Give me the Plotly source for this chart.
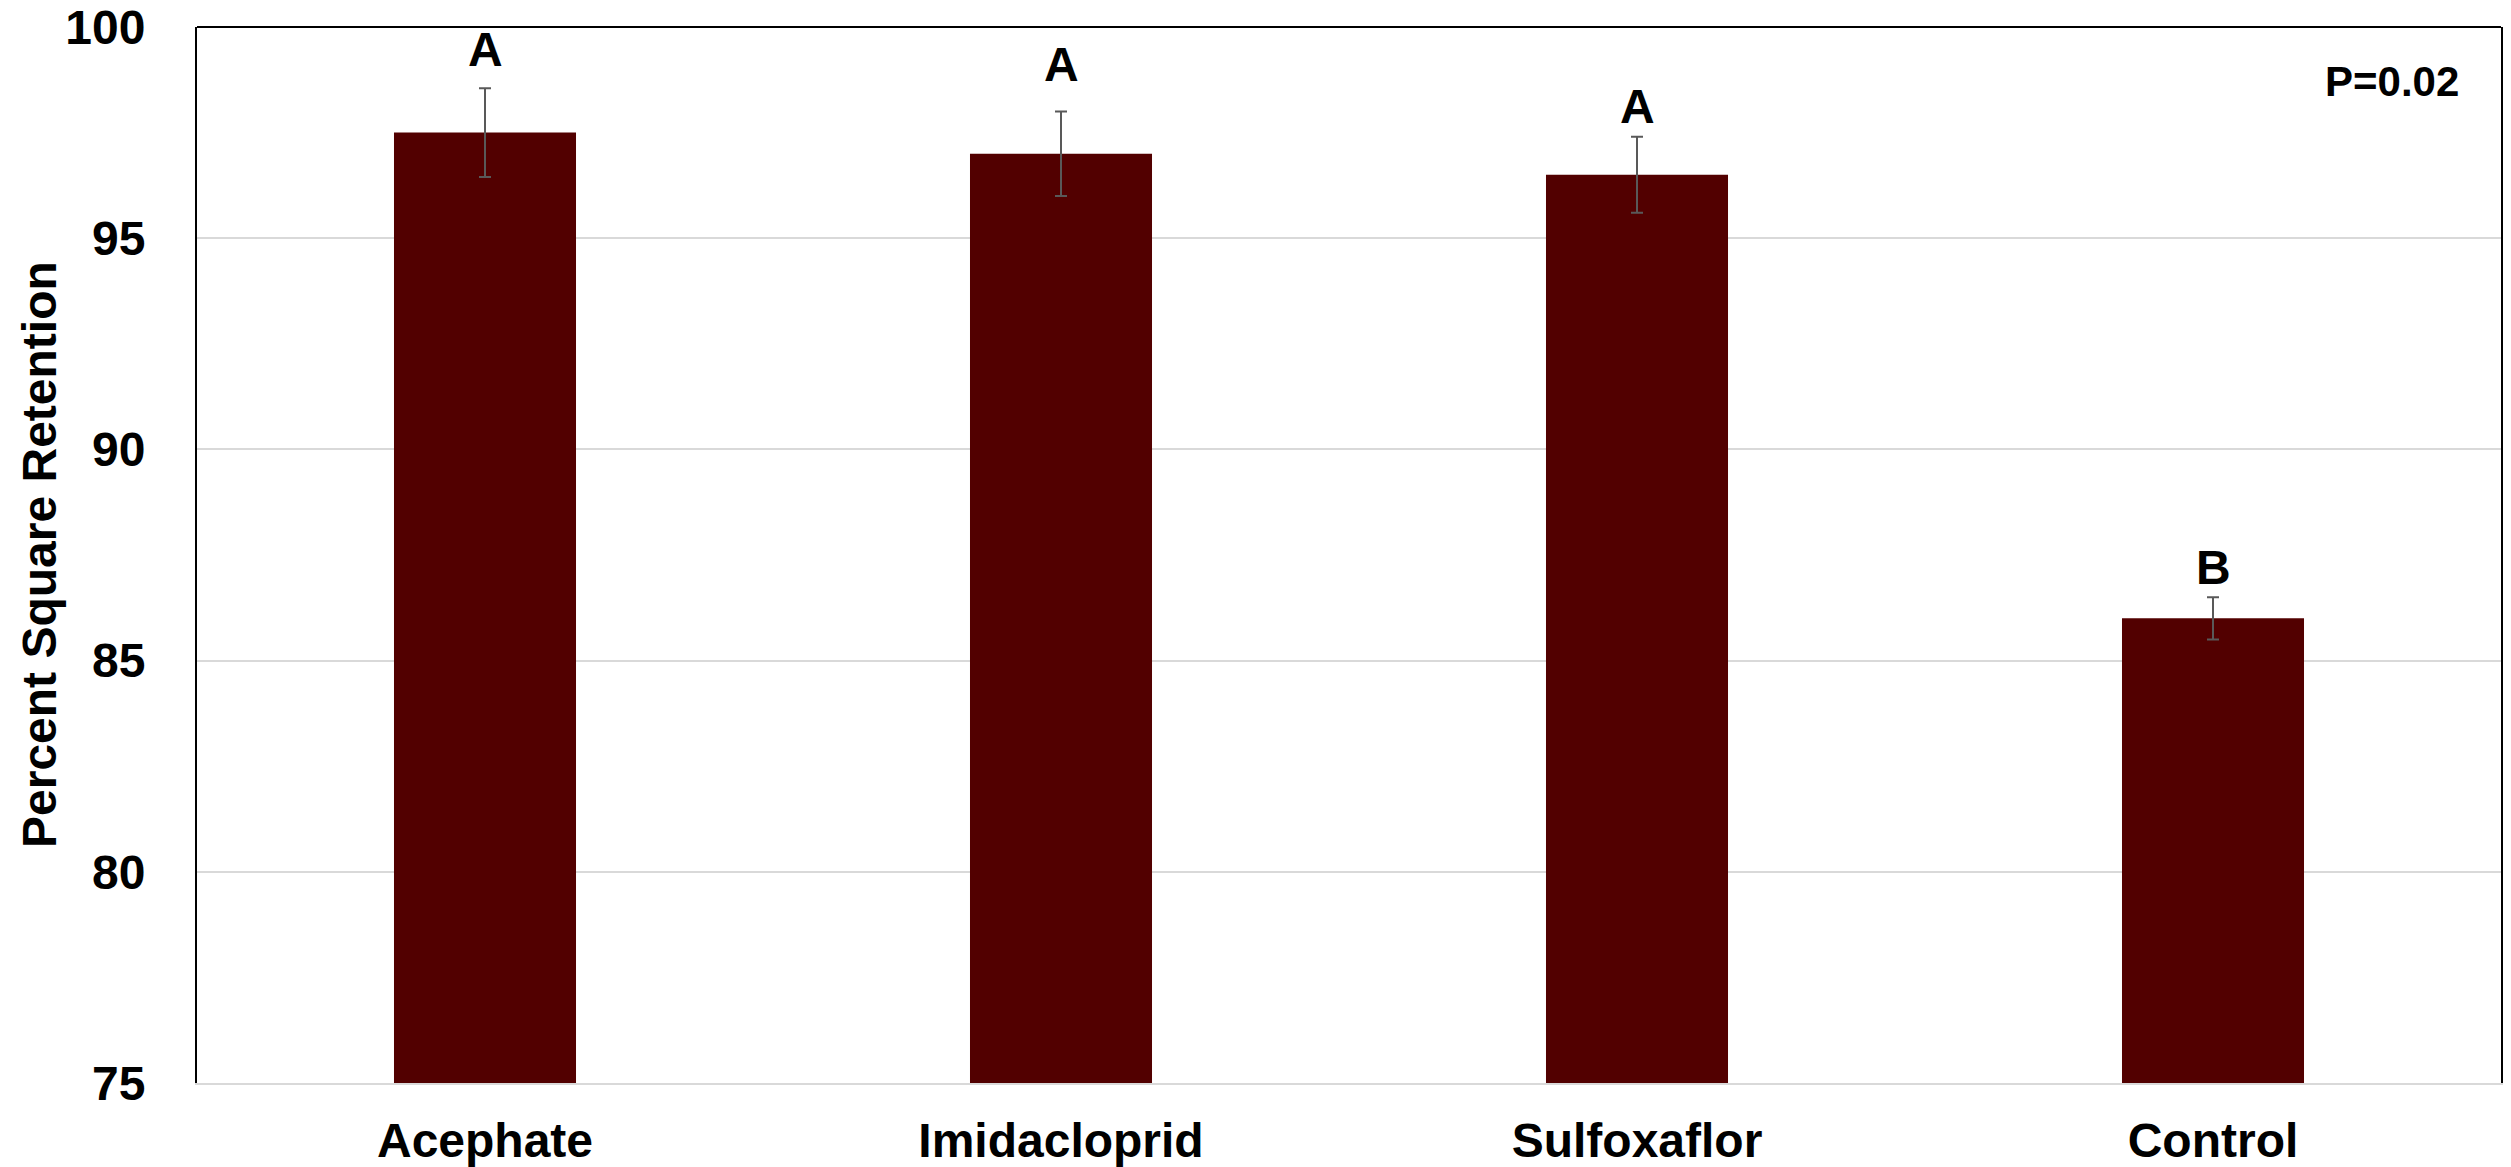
import plotly.graph_objects as go

categories = ["Acephate", "Imidacloprid", "Sulfoxaflor", "Control"]
means = [97.5, 97.0, 96.5, 86.0]
errors = [1.05, 1.0, 0.9, 0.5]
letters = ["A", "A", "A", "B"]
y_ticks = [75, 80, 85, 90, 95, 100]
p_text = "P=0.02"

# layout-only offsets (pixels above error bar top) for the letters
letter_shift = [39, 47, 30, 30]

FONT = "Arial, 'Liberation Sans', sans-serif"

fig = go.Figure()
fig.add_trace(go.Bar(
    x=categories, y=means,
    marker=dict(color="#520000", line=dict(width=0)),
    error_y=dict(type="data", array=errors, visible=True,
                 color="#595959", thickness=2, width=6),
    showlegend=False,
))

for cat, m, e, L, s in zip(categories, means, errors, letters, letter_shift):
    fig.add_annotation(x=cat, y=m + e, text=L, showarrow=False,
                       yanchor="middle", yshift=s,
                       font=dict(family=FONT, size=48, color="black", weight="bold"))

fig.add_annotation(xref="paper", yref="paper", x=1, xshift=-40, y=0.948, text=p_text,
                   showarrow=False, xanchor="right", yanchor="middle",
                   font=dict(family=FONT, size=42, color="black", weight="bold"))

fig.add_annotation(xref="paper", yref="paper", x=0, y=0.5, xshift=-158,
                   text="Percent Square Retention", textangle=-90, showarrow=False,
                   xanchor="center", yanchor="middle",
                   font=dict(family=FONT, size=48, color="black", weight="bold"))

fig.add_shape(type="line", xref="paper", yref="paper", x0=0, x1=1, y0=1, y1=1,
              line=dict(color="black", width=2))

fig.update_layout(
    width=2511, height=1167,
    margin=dict(l=197, r=10, t=27, b=84),
    paper_bgcolor="white", plot_bgcolor="white",
    bargap=0.684,
    font=dict(family=FONT, size=47, color="black", weight="bold"),
    xaxis=dict(showline=True, linecolor="#d9d9d9", linewidth=2, automargin=False,
               showgrid=False, ticks="", ticklabelstandoff=14,
               ticklabeloverflow="allow",
               tickfont=dict(family=FONT, size=48, color="black", weight="bold")),
    yaxis=dict(range=[75, 100], tickvals=y_ticks, showgrid=True, automargin=False,
               gridcolor="#d9d9d9", gridwidth=2, zeroline=False,
               showline=True, linecolor="black", linewidth=2, mirror=True,
               ticks="", ticklabelstandoff=40, ticklabeloverflow="allow",
               tickfont=dict(family=FONT, size=48, color="black", weight="bold")),
)

fig.write_html("out.html", config={"displayModeBar": False},
               post_script="document.body.style.margin='0';")
